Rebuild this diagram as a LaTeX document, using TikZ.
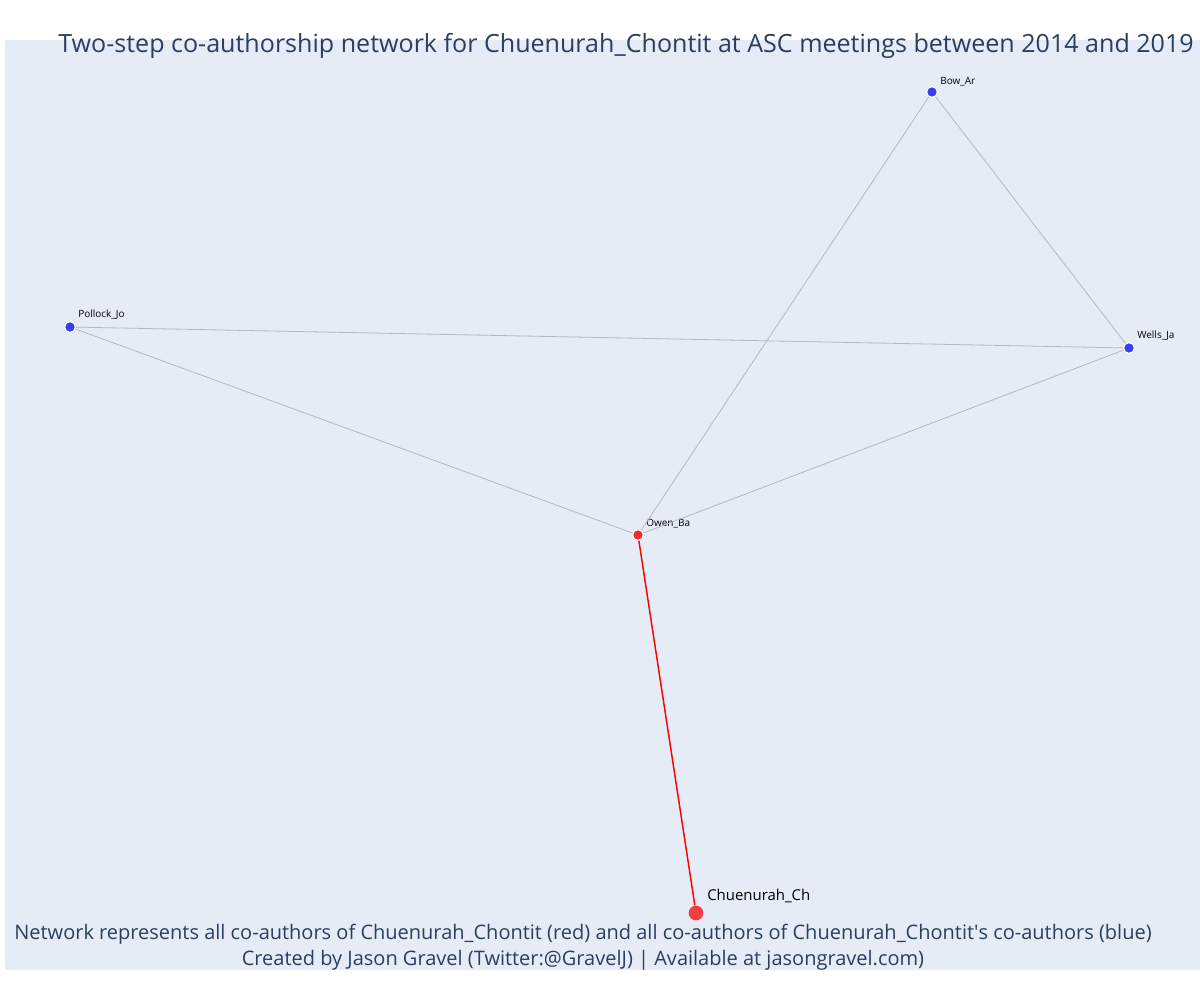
\documentclass[tikz,border=0pt]{standalone}
\usepackage{fontspec}
\setmainfont{Open Sans}
\usepackage{tikz}
\definecolor{plotbg}{HTML}{E5ECF6}
\definecolor{plottext}{HTML}{2A3F5F}
\definecolor{linkgray}{HTML}{B4B6C8}
\definecolor{authblue}{HTML}{3A3AF2}
\definecolor{authred}{HTML}{F22A2A}

\begin{document}
\begin{tikzpicture}[x=0.75pt, y=-0.75pt,
    author/.style={circle, draw=white, line width=0.8pt, inner sep=0pt, minimum size=8pt},
    coauthor/.style={author, fill=authblue},
    lead/.style={author, fill=authred},
    tag/.style={anchor=south west, inner sep=0pt, font=\fontsize{7.5}{9}\selectfont, text=black},
    link/.style={draw=linkgray, line width=0.6pt}]
  \useasboundingbox (0,0) rectangle (1200,1000);
  \fill[plotbg] (5,40) rectangle (1200,970);

  \node[coauthor] (bow)     at (932,92)  {};
  \node[coauthor] (pollock) at (70,327)  {};
  \node[coauthor] (wells)   at (1129,348) {};
  \node[lead]     (owen)    at (638,535) {};
  \node[lead, minimum size=11pt, draw=none, fill=authred!90] (chuen) at (696,913) {};

  \node[tag] at (940,86)  {Bow\_Ar};
  \node[tag] at (78,320)  {Pollock\_Jo};
  \node[tag] at (1137,341) {Wells\_Ja};
  \node[tag] at (646,528) {Owen\_Ba};
  \node[tag, font=\fontsize{11.2}{13}\selectfont] at (707,903) {Chuenurah\_Ch};

  \path[link]
  (pollock) edge (wells)
  (pollock) edge (owen)
  (bow) edge (owen)
  (bow) edge (wells)
  (wells) edge (owen)
  ;
  \path[draw=red, line width=1.1pt]
  (owen) edge (chuen)
  ;

  \node[text=plottext, font=\fontsize{18.8}{22}\selectfont] (title) at (626,46)
    {Two-step co-authorship network for Chuenurah\_Chontit at ASC meetings between 2014 and 2019};
  \node[text=plottext, font=\fontsize{15}{19.5}\selectfont, align=center] (note) at (583,947)
    {Network represents all co-authors of Chuenurah\_Chontit (red) and all co-authors of Chuenurah\_Chontit\textquotesingle s co-authors (blue)\\
     Created by Jason Gravel (Twitter:@GravelJ) | Available at jasongravel.com)};
\end{tikzpicture}
\end{document}
